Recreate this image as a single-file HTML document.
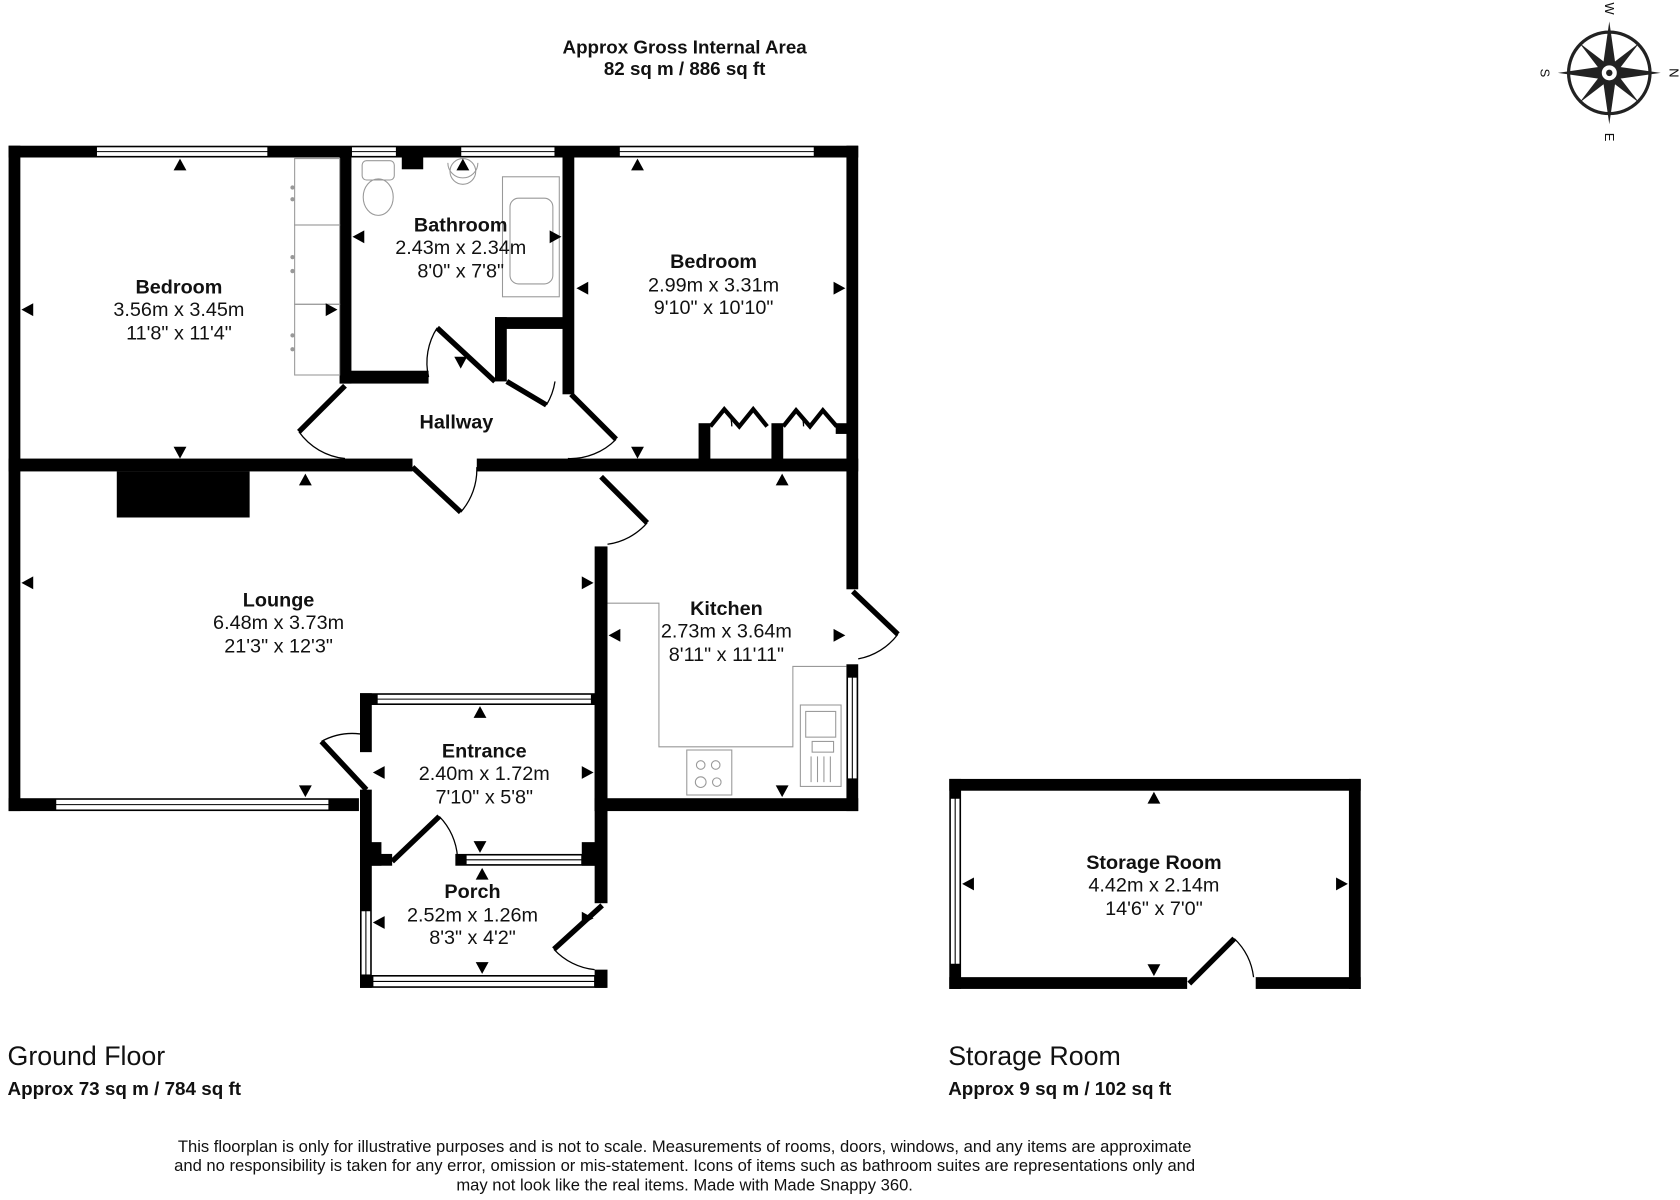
<!DOCTYPE html>
<html><head><meta charset="utf-8"><style>
html,body{margin:0;padding:0;background:#fff}
svg{display:block}
text{font-family:"Liberation Sans",Arial,sans-serif;fill:#111}
.b{font-weight:bold;font-size:18.5px}
.n{font-size:18.5px}
</style></head><body>
<svg width="1680" height="1200" viewBox="0 0 1568 1120" xmlns="http://www.w3.org/2000/svg">
<rect width="1568" height="1120" fill="#fff"/>
<text x="639" y="50" text-anchor="middle" class="b" style="font-size:17.5px">Approx Gross Internal Area</text>
<text x="639" y="70" text-anchor="middle" class="b" style="font-size:17.5px">82 sq m / 886 sq ft</text>

<!-- compass -->
<g transform="translate(1502,68)">
<circle r="38" fill="none" stroke="#222" stroke-width="3"/>
<polygon points="0,-48 6,-6 0,0 -6,-6" fill="#222"/>
<polygon points="0,48 6,6 0,0 -6,6" fill="#222"/>
<polygon points="-48,0 -6,6 0,0 -6,-6" fill="#222"/>
<polygon points="48,0 6,6 0,0 6,-6" fill="#222"/>
<polygon points="-28,-28 2,-5 0,0 -5,2" fill="#222"/>
<polygon points="28,28 -2,5 0,0 5,-2" fill="#222"/>
<polygon points="28,-28 5,2 0,0 -2,-5" fill="#222"/>
<polygon points="-28,28 -5,-2 0,0 2,5" fill="#222"/>
<circle r="8" fill="#fff" stroke="#222" stroke-width="2"/><circle r="3" fill="#222"/>
<text x="0" y="-56" text-anchor="middle" transform="rotate(90 0 -60)" style="font-size:12px">W</text>
<text x="0" y="64" text-anchor="middle" transform="rotate(90 0 60)" style="font-size:12px">E</text>
<text x="-60" y="4" text-anchor="middle" transform="rotate(90 -60 0)" style="font-size:12px">S</text>
<text x="60" y="4" text-anchor="middle" transform="rotate(90 60 0)" style="font-size:12px">N</text>
</g>

<g fill="#000">
<rect x="8" y="136" width="793" height="11"/>
<rect x="8" y="136" width="11" height="621"/>
<rect x="790" y="136" width="11" height="414"/>
<rect x="790" y="620" width="11" height="137"/>
<rect x="317" y="146" width="11" height="212"/>
<rect x="317" y="346" width="83" height="12"/>
<rect x="525" y="146" width="11" height="222"/>
<rect x="462" y="296" width="63" height="11"/>
<rect x="462" y="296" width="11" height="60"/>
<rect x="375" y="146" width="20" height="12"/>
<rect x="8" y="428" width="377" height="12"/>
<rect x="445" y="428" width="356" height="12"/>
<rect x="652" y="395" width="11" height="40"/>
<rect x="720" y="395" width="11" height="40"/>
<rect x="780" y="395" width="12" height="10"/>
<rect x="109" y="440" width="124" height="43"/>
<rect x="555" y="510" width="12" height="247"/>
<rect x="8" y="745" width="327" height="12"/>
<rect x="555" y="745" width="246" height="12"/>
<rect x="336" y="647" width="11" height="55"/>
<rect x="336" y="737" width="11" height="185"/>
<rect x="336" y="647" width="230" height="11"/>
<rect x="555" y="647" width="12" height="196"/>
<rect x="336" y="797" width="30" height="11"/>
<rect x="425" y="797" width="141" height="11"/>
<rect x="543" y="786" width="23" height="22"/>
<rect x="336" y="786" width="20" height="22"/>
<rect x="336" y="910" width="230" height="12"/>
<rect x="555" y="905" width="12" height="17"/>
<rect x="886" y="727" width="384" height="11"/>
<rect x="886" y="727" width="11" height="196"/>
<rect x="1259" y="727" width="11" height="196"/>
<rect x="886" y="912" width="222" height="11"/>
<rect x="1172" y="912" width="98" height="11"/>
</g>

<g fill="#fff" stroke="#000" stroke-width="1">
<rect x="90" y="137" width="160" height="9"/><line x1="90" y1="141.5" x2="250" y2="141.5"/>
<rect x="328" y="137" width="42" height="9"/><line x1="328" y1="141.5" x2="370" y2="141.5"/>
<rect x="430" y="137" width="88" height="9"/><line x1="430" y1="141.5" x2="518" y2="141.5"/>
<rect x="578" y="137" width="182" height="9"/><line x1="578" y1="141.5" x2="760" y2="141.5"/>
<rect x="52" y="746" width="255" height="10"/><line x1="52" y1="751" x2="307" y2="751"/>
<rect x="352" y="648" width="200" height="9"/><line x1="352" y1="652.5" x2="552" y2="652.5"/>
<rect x="435" y="798" width="108" height="9"/><line x1="435" y1="802.5" x2="543" y2="802.5"/>
<rect x="348" y="911" width="207" height="10"/><line x1="348" y1="916" x2="555" y2="916"/>
<rect x="337" y="850" width="9" height="60"/><line x1="341.5" y1="850" x2="341.5" y2="910"/>
<rect x="791" y="632" width="9" height="95"/><line x1="795.5" y1="632" x2="795.5" y2="727"/>
<rect x="887" y="745" width="9" height="155"/><line x1="891.5" y1="745" x2="891.5" y2="900"/>
</g>

<g fill="none" stroke="#000">
<g stroke-width="5">
<line x1="322" y1="360" x2="279" y2="403"/>
<line x1="385" y1="436" x2="430" y2="478"/>
<line x1="533" y1="368" x2="575" y2="410"/>
<line x1="408" y1="306" x2="462" y2="356"/>
<line x1="473" y1="356" x2="510" y2="378"/>
<line x1="561" y1="445" x2="604" y2="488"/>
<line x1="796" y1="552" x2="838" y2="592"/>
<line x1="342" y1="737" x2="300" y2="692"/>
<line x1="366" y1="804" x2="410" y2="762"/>
<line x1="562" y1="845" x2="517" y2="886"/>
<line x1="1110" y1="918" x2="1152" y2="876"/>
<polyline points="663,398 676,382 690,398 703,382 716,398" stroke-width="4"/>
<polyline points="731,398 743,383 756,398 768,383 781,398" stroke-width="4"/>
</g>
<g stroke-width="1.2">
<path d="M279,403 A60,60 0 0 0 322,428"/>
<path d="M430,478 A60,60 0 0 0 445,436"/>
<path d="M575,410 A60,60 0 0 1 530,428"/>
<path d="M408,306 A60,60 0 0 0 400,352"/>
<path d="M510,378 A60,60 0 0 0 518,356"/>
<path d="M604,488 A60,60 0 0 1 567,508"/>
<path d="M838,592 A60,60 0 0 1 801,615"/>
<path d="M300,692 A60,60 0 0 1 336,685"/>
<path d="M410,762 A60,60 0 0 1 427,800"/>
<path d="M517,886 A60,60 0 0 0 555,905"/>
<path d="M1152,876 A60,60 0 0 1 1170,912"/>
<path d="M676,382 Q683,386 683,398"/><path d="M743,383 Q750,387 750,398"/>
</g>
</g>

<g fill="none" stroke="#999" stroke-width="1">
<rect x="275" y="148" width="42" height="62"/>
<rect x="275" y="210" width="42" height="74"/>
<rect x="275" y="284" width="42" height="66"/>
<rect x="338" y="150" width="30" height="18" rx="4"/>
<ellipse cx="353" cy="184" rx="14" ry="17"/>
<path d="M418,152 A14,14 0 0 0 446,152"/>
<ellipse cx="432" cy="160" rx="12" ry="12"/>
<rect x="469" y="165" width="53" height="112"/>
<rect x="476" y="185" width="40" height="80" rx="8"/>
<polyline points="567,563 615,563 615,697 740,697 740,622 790,622"/>
<rect x="641" y="700" width="42" height="42"/>
<circle cx="654" cy="714" r="4"/><circle cx="668" cy="714" r="4"/><circle cx="654" cy="730" r="5"/><circle cx="669" cy="730" r="4"/>
<rect x="747" y="658" width="38" height="76"/>
<rect x="752" y="664" width="28" height="24"/><rect x="758" y="692" width="20" height="10"/>
<line x1="757" y1="706" x2="757" y2="730"/><line x1="763" y1="706" x2="763" y2="730"/><line x1="769" y1="706" x2="769" y2="730"/><line x1="775" y1="706" x2="775" y2="730"/>
</g>
<g fill="#999"><circle cx="273" cy="175" r="2"/><circle cx="273" cy="186" r="2"/><circle cx="273" cy="240" r="2"/><circle cx="273" cy="253" r="2"/><circle cx="273" cy="313" r="2"/><circle cx="273" cy="326" r="2"/></g>

<g fill="#000">
<polygon points="168,148 162,159 174,159"/><polygon points="168,428 162,417 174,417"/>
<polygon points="20,289 31,283 31,295"/><polygon points="315,289 304,283 304,295"/>
<polygon points="329,221 340,215 340,227"/><polygon points="524,221 513,215 513,227"/>
<polygon points="432,148 426,159 438,159"/><polygon points="430,344 424,333 436,333"/>
<polygon points="595,148 589,159 601,159"/><polygon points="595,428 589,417 601,417"/>
<polygon points="538,269 549,263 549,275"/><polygon points="789,269 778,263 778,275"/>
<polygon points="285,442 279,453 291,453"/><polygon points="285,744 279,733 291,733"/>
<polygon points="20,544 31,538 31,550"/><polygon points="554,544 543,538 543,550"/>
<polygon points="730,442 724,453 736,453"/><polygon points="730,744 724,733 736,733"/>
<polygon points="568,593 579,587 579,599"/><polygon points="789,593 778,587 778,599"/>
<polygon points="448,659 442,670 454,670"/><polygon points="448,796 442,785 454,785"/>
<polygon points="348,721 359,715 359,727"/><polygon points="554,721 543,715 543,727"/>
<polygon points="450,810 444,821 456,821"/><polygon points="450,909 444,898 456,898"/>
<polygon points="348,861 359,855 359,867"/><polygon points="554,857 543,851 543,863"/>
<polygon points="1077,739 1071,750 1083,750"/><polygon points="1077,911 1071,900 1083,900"/>
<polygon points="898,825 909,819 909,831"/><polygon points="1258,825 1247,819 1247,831"/>
</g>

<g text-anchor="middle">
<text x="167" y="274" class="b">Bedroom</text><text x="167" y="295" class="n">3.56m x 3.45m</text><text x="167" y="317" class="n">11'8" x 11'4"</text>
<text x="430" y="216" class="b">Bathroom</text><text x="430" y="237" class="n">2.43m x 2.34m</text><text x="430" y="259" class="n">8'0" x 7'8"</text>
<text x="666" y="250" class="b">Bedroom</text><text x="666" y="272" class="n">2.99m x 3.31m</text><text x="666" y="293" class="n">9'10" x 10'10"</text>
<text x="426" y="400" class="b">Hallway</text>
<text x="260" y="566" class="b">Lounge</text><text x="260" y="587" class="n">6.48m x 3.73m</text><text x="260" y="609" class="n">21'3" x 12'3"</text>
<text x="678" y="574" class="b">Kitchen</text><text x="678" y="595" class="n">2.73m x 3.64m</text><text x="678" y="617" class="n">8'11" x 11'11"</text>
<text x="452" y="707" class="b">Entrance</text><text x="452" y="728" class="n">2.40m x 1.72m</text><text x="452" y="750" class="n">7'10" x 5'8"</text>
<text x="441" y="838" class="b">Porch</text><text x="441" y="860" class="n">2.52m x 1.26m</text><text x="441" y="881" class="n">8'3" x 4'2"</text>
<text x="1077" y="811" class="b">Storage Room</text><text x="1077" y="832" class="n">4.42m x 2.14m</text><text x="1077" y="854" class="n">14'6" x 7'0"</text>
</g>

<text x="7" y="994" style="font-size:25px">Ground Floor</text>
<text x="7" y="1022" class="b" style="font-size:17.6px">Approx 73 sq m / 784 sq ft</text>
<text x="885" y="994" style="font-size:25px">Storage Room</text>
<text x="885" y="1022" class="b" style="font-size:17.6px">Approx 9 sq m / 102 sq ft</text>

<g text-anchor="middle" style="font-size:15.5px">
<text x="639" y="1075">This floorplan is only for illustrative purposes and is not to scale. Measurements of rooms, doors, windows, and any items are approximate</text>
<text x="639" y="1093">and no responsibility is taken for any error, omission or mis-statement. Icons of items such as bathroom suites are representations only and</text>
<text x="639" y="1111">may not look like the real items. Made with Made Snappy 360.</text>
</g>
</svg>
</body></html>
